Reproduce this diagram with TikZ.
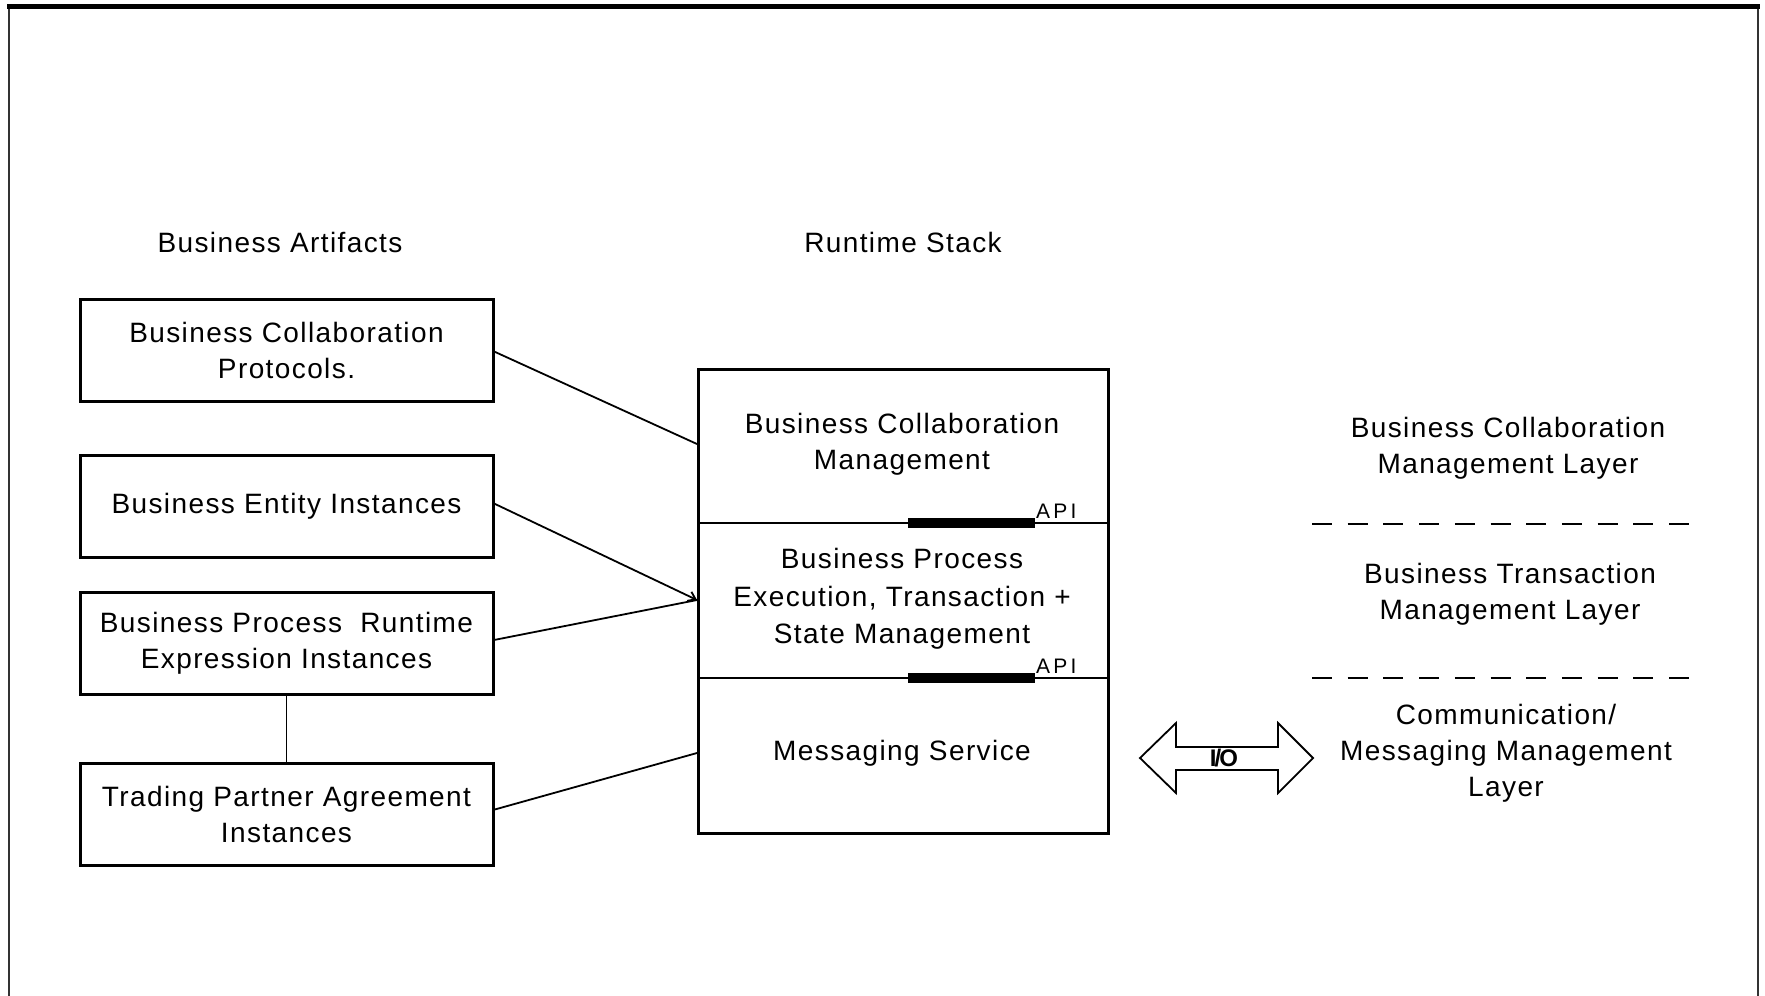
\documentclass[tikz,border=0pt]{standalone}
\usepackage{fontspec}
\setmainfont{Liberation Sans}[LetterSpace=5]
\usetikzlibrary{arrows.meta}
\newcommand\diafont{\fontsize{28}{36}\selectfont}
\newcommand\apifont{\fontsize{21}{24}\selectfont\addfontfeatures{LetterSpace=15}}
\newcommand\iofont{\fontsize{24}{26}\selectfont\bfseries\addfontfeatures{LetterSpace=-8}}
\begin{document}
\begin{tikzpicture}[x=1pt,y=-1pt,
  artifact/.style={draw, line width=3pt, minimum width=413pt, minimum height=102pt, align=center, inner sep=0pt, font=\diafont},
  stackbox/.style={draw, line width=3pt, minimum width=410pt, minimum height=464pt, inner sep=0pt},
  lbl/.style={align=center, inner sep=0pt, font=\diafont},
  conn/.style={line width=1.8pt},
  divider/.style={line width=1.5pt},
  apibar/.style={line width=10pt},
  layerdash/.style={line width=1.6pt, dash pattern=on 20pt off 15.7pt},
  apitext/.style={anchor=base west, inner sep=0pt, font=\apifont},
]
\useasboundingbox (0,0) rectangle (1765,996);
% frame
\draw[line width=2pt, black!80] (9,996) -- (9,6) -- (1758,6) -- (1758,996);
\draw[line width=5pt] (7,6) -- (1760,6);

% titles
\node[lbl] (t1) at (280,242) {Business Artifacts};
\node[lbl] (t2) at (903,242) {Runtime Stack};

% artifact boxes
\node[artifact] (b1) at (286.5,350) {Business Collaboration\\Protocols.};
\node[artifact] (b2) at (286.5,506) {Business Entity Instances};
\node[artifact] (b3) at (286.5,643.5) {Business Process \ Runtime\\Expression Instances};
\node[artifact] (b4) at (286.5,814.5) {Trading Partner Agreement\\Instances};
\draw[line width=1.5pt] (b3.south) -- (b4.north);

% runtime stack
\node[stackbox] (stack) at (903,601) {};
\coordinate (d1l) at (698,523);
\coordinate (d1r) at (1108,523);
\coordinate (d2l) at (698,678);
\coordinate (d2r) at (1108,678);
\draw[divider] (d1l) -- (d1r);
\draw[divider] (d2l) -- (d2r);
\coordinate (a1l) at (908,523);
\coordinate (a1r) at (1035,523);
\coordinate (a2l) at (908,678);
\coordinate (a2r) at (1035,678);
\draw[apibar] (a1l) -- (a1r);
\draw[apibar] (a2l) -- (a2r);
\node[apitext] (api1) at (1036,518) {API};
\node[apitext] (api2) at (1036,673) {API};

\node[lbl] (s1) at (902,444) {Business Collaboration\\Management};
\node[lbl, font=\fontsize{28}{37.5}\selectfont] (s2) at (902,599) {Business Process\\Execution, Transaction +\\State Management};
\node[lbl] (s3) at (902,753) {Messaging Service};

% connectors
\coordinate (c1a) at (493,351);
\coordinate (c1b) at (697,444);
\coordinate (c2a) at (493,503);
\coordinate (c2b) at (697,600);
\coordinate (c3a) at (494,640);
\coordinate (c4a) at (493,810);
\coordinate (c4b) at (697,753);
\draw[conn] (c1a) -- (c1b);
\draw[conn, -{Straight Barb[length=7pt,width=10pt]}] (c2a) -- (c2b);
\draw[conn] (c3a) -- (c2b);
\draw[conn] (c4a) -- (c4b);

% layer labels
\node[lbl] (l1) at (1508,448) {Business Collaboration\\Management Layer};
\node[lbl] (l2) at (1510,594) {Business Transaction\\Management Layer};
\node[lbl] (l3) at (1506,753) {Communication/\\Messaging Management\\Layer};
\coordinate (dl1a) at (1312,524);
\coordinate (dl1b) at (1689,524);
\coordinate (dl2a) at (1312,678);
\coordinate (dl2b) at (1689,678);
\draw[layerdash] (dl1a) -- (dl1b);
\draw[layerdash] (dl2a) -- (dl2b);

% I/O double arrow
\draw[line width=1.8pt, line join=miter] (1140,758) -- (1176,723) -- (1176,747) -- (1278,747) -- (1278,723)
  -- (1313,758) -- (1278,793) -- (1278,770) -- (1176,770) -- (1176,793) -- cycle;
\node[inner sep=0pt, font=\iofont] (io) at (1224,758) {I/O};
\end{tikzpicture}
\end{document}
